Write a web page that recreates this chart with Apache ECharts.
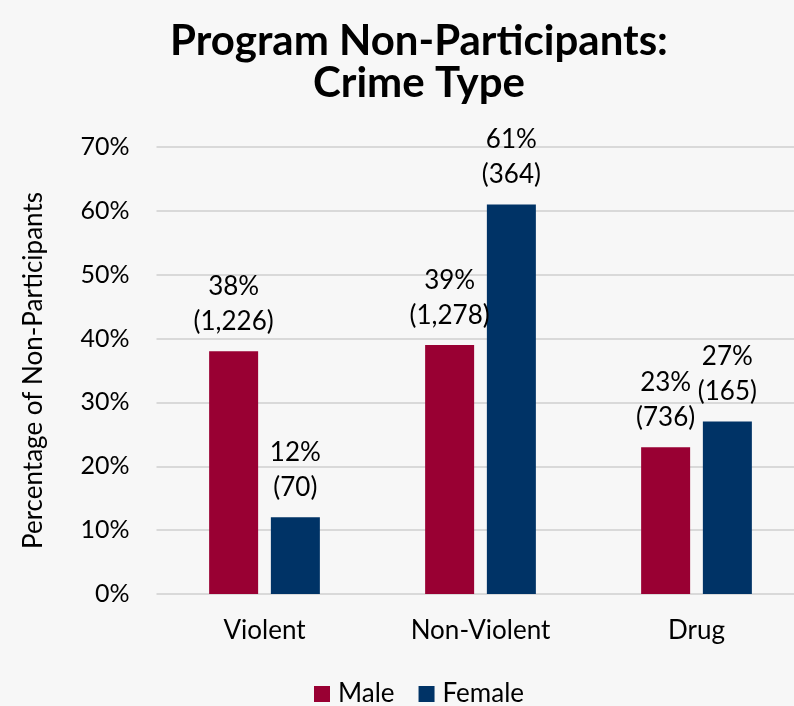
<!DOCTYPE html>
<html><head><meta charset="utf-8">
<script src="https://cdn.jsdelivr.net/npm/echarts@6/dist/echarts.min.js"></script>
<style>html,body{margin:0;padding:0;background:#f7f7f7}#c{width:794px;height:706px}</style>
</head><body><div id="c"></div>
<script>
const categories = ['Violent', 'Non-Violent', 'Drug'];
const malePct = [38, 39, 23];
const femalePct = [12, 61, 27];
const maleCount = ['1,226', '1,278', '736'];
const femaleCount = ['70', '364', '165'];
const yTicks = [0, 10, 20, 30, 40, 50, 60, 70];

const FONT = 'Lato, "Open Sans", sans-serif';
const chart = echarts.init(document.getElementById('c'));
function labelFn(counts) {
  return p => p.value + '%\n(' + counts[p.dataIndex] + ')';
}
chart.setOption({
  backgroundColor: '#f7f7f7',
  textStyle: { fontFamily: FONT },
  title: {
    text: 'Program Non-Participants:\nCrime Type',
    left: 414, top: 15, textAlign: 'center',
    textStyle: { fontFamily: FONT, fontWeight: 'bold', fontSize: 42, lineHeight: 42, color: '#000' }
  },
  legend: {
    top: 676, left: 309, itemWidth: 16, itemHeight: 16, itemGap: 24,
    icon: 'rect',
    textStyle: { fontFamily: FONT, fontSize: 26, color: '#000', padding: [0, 0, 0, 3] },
    data: ['Male', 'Female']
  },
  grid: { left: 156.5, width: 648, top: 147, height: 447, outerBoundsMode: 'none', containLabel: false },
  xAxis: {
    type: 'category', data: categories,
    axisLine: { show: false }, axisTick: { show: false },
    axisLabel: { fontFamily: FONT, fontSize: 26, color: '#000', margin: 24 }
  },
  yAxis: {
    type: 'value', min: yTicks[0], max: yTicks[yTicks.length - 1], interval: 10,
    name: 'Percentage of Non-Participants', nameLocation: 'middle', nameGap: 110, nameRotate: 90,
    nameTextStyle: { fontFamily: FONT, fontSize: 26, color: '#000' },
    axisLabel: { formatter: '{value}%', fontFamily: FONT, fontSize: 25, color: '#000', margin: 27 },
    splitLine: { lineStyle: { color: '#d9d9d9', width: 2 } },
    axisLine: { show: false }, axisTick: { show: false }
  },
  series: [
    {
      name: 'Male', type: 'bar', data: malePct, barWidth: 49, barGap: '26%',
      itemStyle: { color: '#990033' },
      label: { show: true, position: 'top', distance: 12, formatter: labelFn(maleCount),
        fontFamily: FONT, fontSize: 26, lineHeight: 35, color: '#000' }
    },
    {
      name: 'Female', type: 'bar', data: femalePct, barWidth: 49,
      itemStyle: { color: '#003366' },
      label: { show: true, position: 'top', distance: 12, formatter: labelFn(femaleCount),
        fontFamily: FONT, fontSize: 26, lineHeight: 35, color: '#000' }
    }
  ]
});
</script></body></html>
